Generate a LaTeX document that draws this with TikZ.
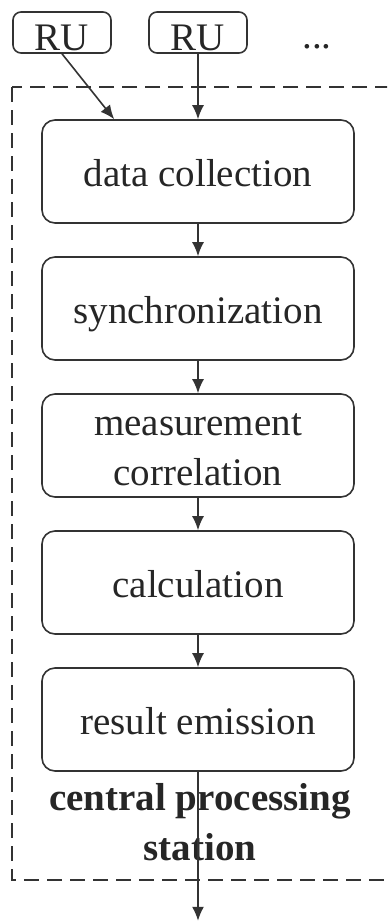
\documentclass[tikz,border=0pt]{standalone}
\usepackage{fontspec}
\setmainfont{Liberation Serif}
\usetikzlibrary{arrows.meta}
\usetikzlibrary{positioning}
\tikzset{
    block/.style={
           rectangle,
           rounded corners=6.5pt,
           draw=black!80, line width=0.8pt,
           minimum width=156pt,
           minimum height=51.5pt,
           text height=15.5pt, text depth=0.5pt,
           inner xsep=2pt, inner ysep=0pt,
           text centered,
           },
     unit/.style={
           rectangle,
           rounded corners=4pt,
           draw=black!80, line width=0.8pt,
           minimum width=49pt,
           minimum height=20.5pt,
           text height=17.5pt, text depth=0pt,
           inner sep=1pt,
           text centered,
           },
     frameless/.style={
           %rectangle,
           %draw=black, very thick,
           inner sep=2pt,
           text centered,
           },
     flow/.style={
           -{Latex[length=7pt,width=6pt]},
           line width=0.8pt,
           color=black!80,
           },
}

\begin{document}
\begin{tikzpicture}[x=0.5pt, y=-0.5pt, node distance=16.2pt,
    font=\fontsize{19.5}{25}\selectfont, text=black!85]
	\clip (0,0) rectangle (387,922);

	% station frame
	\draw[dashed, dash pattern=on 7.5pt off 4pt, line width=0.9pt, black!80]
		(12,87) rectangle (420,880);

	\node[unit] (ru1) at (62,32.5) {RU};
	\node[unit] (ru2) at (198,32.5) {RU};
	\node[frameless, anchor=base] (more) at (317,48) {...};

	\node[block] (dc) at (198,171.5) {data collection};
	\node[block, below=of dc] (sync) {synchronization};
	\node[block, below=of sync] (corr) {
		\begin{tabular}{c}
		measurement\\
		correlation
		\end{tabular}
	};
	\node[block, below=of corr] (calc) {calculation};
	\node[block, below=of calc] (emit) {result emission};

	\node[frameless, font=\fontsize{19.5}{25}\selectfont\bfseries] (cps) at (200,825) {
		\begin{tabular}{c}
		central processing\\
		station
		\end{tabular}
	};

	\coordinate[below=74.5pt of emit.south] (out);

	\path[flow]	(ru1.south) edge ([xshift=36.5pt]dc.north west)
			(ru2.south) edge (dc.north);
	\path[flow]	(dc) edge (sync)
			(sync) edge (corr)
			(corr) edge (calc)
			(calc) edge (emit)
			(emit) edge (out);

\end{tikzpicture}
\end{document}
